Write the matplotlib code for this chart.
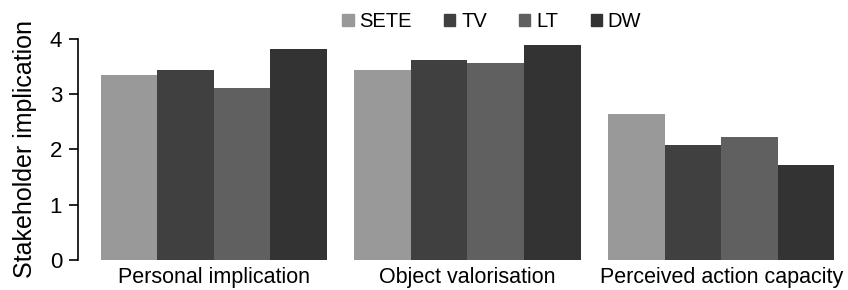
import matplotlib.pyplot as plt
import numpy as np

plt.rcParams['font.family'] = ['Liberation Sans', 'DejaVu Sans']

# data
categories = ['Personal implication', 'Object valorisation', 'Perceived action capacity']
series = ['SETE', 'TV', 'LT', 'DW']
sete = [3.35, 3.44, 2.64]
tv = [3.44, 3.62, 2.08]
lt = [3.11, 3.57, 2.23]
dw = [3.82, 3.89, 1.72]
colors = ['#999999', '#404040', '#606060', '#333333']

fig = plt.figure(figsize=(8.48, 2.9), dpi=100)
ax = fig.add_axes([0.092, 0.103, 0.908, 0.763])

x = np.arange(len(categories))
w = 0.223
for i, (vals, name) in enumerate(zip([sete, tv, lt, dw], series)):
    ax.bar(x + (i - 1.5) * w, vals, width=w, color=colors[i], label=name)

ax.set_xlim(-0.535, 2.5)
ax.set_ylim(0, 4)
ax.set_yticks([0, 1, 2, 3, 4])
ax.set_xticks(x)
ax.set_xticklabels(categories, fontsize=15.5)
ax.tick_params(axis='y', labelsize=16, length=6.5, width=1.2, direction='out', pad=5)
ax.tick_params(axis='x', length=0, pad=5)
ax.set_ylabel('Stakeholder implication', fontsize=18, labelpad=9)

ax.spines['top'].set_visible(False)
ax.spines['right'].set_visible(False)
ax.spines['bottom'].set_visible(False)
ax.spines['left'].set_linewidth(1.2)

handles = [plt.Rectangle((0, 0), 1, 1, color=c) for c in colors]
fig.legend(handles, series, loc='center left', bbox_to_anchor=(0.392, 0.925),
           ncol=4, frameon=False, fontsize=14.5, handlelength=0.55, handleheight=0.55,
           handletextpad=0.3, columnspacing=1.6, borderpad=0)

plt.savefig('out.png', dpi=100)
